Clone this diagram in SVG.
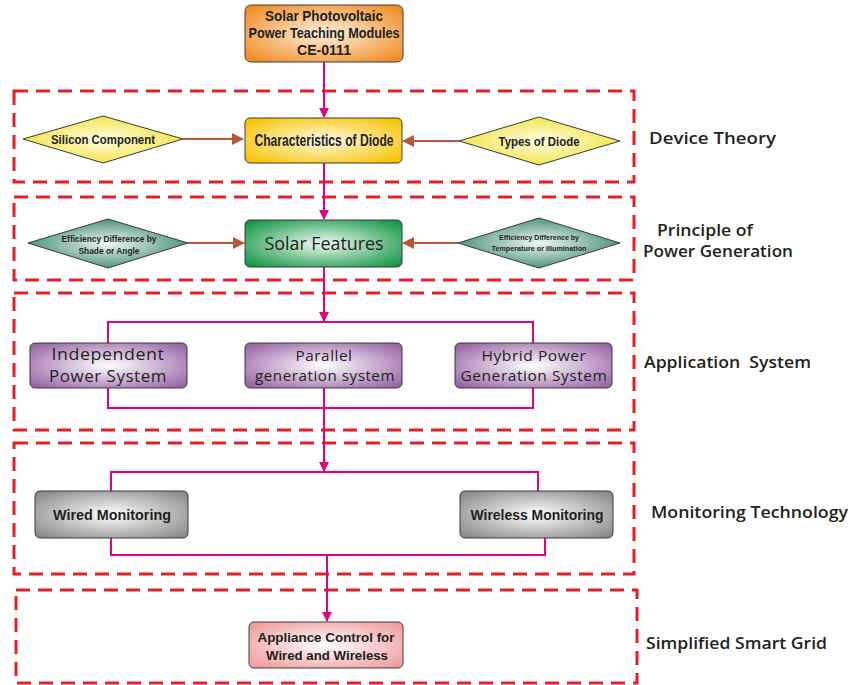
<svg xmlns="http://www.w3.org/2000/svg" width="850" height="685" viewBox="0 0 850 685">
<defs>
<radialGradient id="gOrange" cx="50%" cy="50%" r="65%"><stop offset="0" stop-color="#fff1e0"/><stop offset="1" stop-color="#f08d25"/></radialGradient>
<radialGradient id="gYellow" cx="50%" cy="50%" r="65%"><stop offset="0" stop-color="#fffbe6"/><stop offset="1" stop-color="#f6c300"/></radialGradient>
<radialGradient id="gGreen" cx="50%" cy="50%" r="65%"><stop offset="0" stop-color="#f0fbf0"/><stop offset="1" stop-color="#139646"/></radialGradient>
<radialGradient id="gPurple" cx="50%" cy="50%" r="65%"><stop offset="0" stop-color="#ffffff"/><stop offset="1" stop-color="#9864a6"/></radialGradient>
<radialGradient id="gGray" cx="50%" cy="50%" r="65%"><stop offset="0" stop-color="#ffffff"/><stop offset="1" stop-color="#8a8a8a"/></radialGradient>
<radialGradient id="gPink" cx="50%" cy="50%" r="65%"><stop offset="0" stop-color="#ffffff"/><stop offset="1" stop-color="#ee9c9c"/></radialGradient>
<radialGradient id="gDYellow" cx="50%" cy="50%" r="55%"><stop offset="0" stop-color="#fffde8"/><stop offset="1" stop-color="#f2e23a"/></radialGradient>
<radialGradient id="gDTeal" cx="50%" cy="50%" r="55%"><stop offset="0" stop-color="#eef7f3"/><stop offset="1" stop-color="#3f8a74"/></radialGradient>
<marker id="mPink" markerWidth="10" markerHeight="10" refX="9" refY="5" orient="auto" markerUnits="userSpaceOnUse"><path d="M0,0 L10,5 L0,10 z" fill="#e6007e"/></marker>
<marker id="mBrown" markerWidth="12" markerHeight="12" refX="11" refY="6" orient="auto" markerUnits="userSpaceOnUse"><path d="M0,0 L12,6 L0,12 z" fill="#b5573a"/></marker>
</defs>
<style>
.sec{fill:none;stroke:#e61e2a;stroke-width:3;stroke-dasharray:14 8}
.box{stroke:#3a3a3a;stroke-width:1}
.dia{stroke:#3a3a3a;stroke-width:1}
.c{fill:none;stroke:#e6007e;stroke-width:2}
.b{fill:none;stroke:#b5573a;stroke-width:2.2}
.t{font-family:"Liberation Sans",Arial,sans-serif;font-weight:bold;fill:#231f20;text-anchor:middle}
.p{font-family:"Open Sans","Noto Sans",sans-serif;fill:#231f20;text-anchor:middle;letter-spacing:0.5px}
.lab{font-family:"Open Sans","Noto Sans",sans-serif;font-weight:600;font-size:17px;fill:#231f20}
</style>
<g id="sections">
<rect class="sec" x="14" y="91" width="620" height="91"/>
<rect class="sec" x="14" y="197" width="620" height="83"/>
<rect class="sec" x="14" y="293" width="620" height="137"/>
<rect class="sec" x="14" y="443" width="620" height="131"/>
<rect class="sec" x="16" y="590" width="621" height="93"/>
</g>
<g id="connectors">
<path class="c" d="M324 62 V117" marker-end="url(#mPink)"/>
<path class="c" d="M324 163 V219" marker-end="url(#mPink)"/>
<path class="c" d="M324 267 V321" marker-end="url(#mPink)"/>
<path class="c" d="M108 343 V322 H533 V343"/>
<path class="c" d="M108 388 V408 H533 V388"/>
<path class="c" d="M324 388 V471" marker-end="url(#mPink)"/>
<path class="c" d="M111 491 V472 H538 V491"/>
<path class="c" d="M111 538 V555 H545 V538"/>
<path class="c" d="M327 555 V621" marker-end="url(#mPink)"/>
<path class="b" d="M183 139 H243" marker-end="url(#mBrown)"/>
<path class="b" d="M459 141 H403" marker-end="url(#mBrown)"/>
<path class="b" d="M188 243 H244" marker-end="url(#mBrown)"/>
<path class="b" d="M458 243 H403" marker-end="url(#mBrown)"/>
</g>
<g id="n-top">
<rect class="box" x="245" y="5" width="158" height="57" rx="6" fill="url(#gOrange)"/>
<text class="t" font-size="14" x="324" y="21" textLength="118" lengthAdjust="spacingAndGlyphs">Solar Photovoltaic</text>
<text class="t" font-size="14" x="324" y="38" textLength="151" lengthAdjust="spacingAndGlyphs">Power Teaching Modules</text>
<text class="t" font-size="14" x="324" y="55" textLength="54" lengthAdjust="spacingAndGlyphs">CE-0111</text>
</g>
<g id="n-diode">
<rect class="box" x="245" y="118" width="157" height="45" rx="5" fill="url(#gYellow)"/>
<text class="t" font-size="16" x="324" y="146" textLength="139" lengthAdjust="spacingAndGlyphs">Characteristics of Diode</text>
</g>
<g id="n-silicon">
<polygon class="dia" points="23,139 103,116 183,139 103,163" fill="url(#gDYellow)"/>
<text class="t" font-size="13" x="103" y="144" textLength="104" lengthAdjust="spacingAndGlyphs">Silicon Component</text>
</g>
<g id="n-types">
<polygon class="dia" points="459,141 539,117 620,141 539,165" fill="url(#gDYellow)"/>
<text class="t" font-size="13" x="539" y="146" textLength="81" lengthAdjust="spacingAndGlyphs">Types of Diode</text>
</g>
<g id="n-solar">
<rect class="box" x="245" y="220" width="157" height="47" rx="5" fill="url(#gGreen)"/>
<text class="p" font-size="19" x="324" y="250" textLength="119" lengthAdjust="spacingAndGlyphs" style="letter-spacing:0">Solar Features</text>
</g>
<g id="n-shade">
<polygon class="dia" points="28,243 108,219 188,243 108,268" fill="url(#gDTeal)"/>
<text class="t" font-size="8.5" x="109" y="242" textLength="95" lengthAdjust="spacingAndGlyphs">Efficiency Difference by</text>
<text class="t" font-size="8.5" x="109" y="254" textLength="61" lengthAdjust="spacingAndGlyphs">Shade or Angle</text>
</g>
<g id="n-temp">
<polygon class="dia" points="458,243 539,218 620,243 539,268" fill="url(#gDTeal)"/>
<text class="t" font-size="8" x="539" y="240" textLength="80" lengthAdjust="spacingAndGlyphs">Efficiency Difference by</text>
<text class="t" font-size="8" x="539" y="251" textLength="95" lengthAdjust="spacingAndGlyphs">Temperature or Illumination</text>
</g>
<g id="n-independent">
<rect class="box" x="30" y="343" width="157" height="45" rx="5" fill="url(#gPurple)"/>
<text class="p" font-size="16" x="108" y="360" textLength="113" lengthAdjust="spacingAndGlyphs">Independent</text>
<text class="p" font-size="16" x="108" y="382" textLength="118" lengthAdjust="spacingAndGlyphs">Power System</text>
</g>
<g id="n-parallel">
<rect class="box" x="245" y="343" width="157" height="45" rx="5" fill="url(#gPurple)"/>
<text class="p" font-size="14" x="324" y="361" textLength="57" lengthAdjust="spacingAndGlyphs">Parallel</text>
<text class="p" font-size="14" x="325" y="381" textLength="140" lengthAdjust="spacingAndGlyphs">generation system</text>
</g>
<g id="n-hybrid">
<rect class="box" x="455" y="343" width="157" height="45" rx="5" fill="url(#gPurple)"/>
<text class="p" font-size="14" x="534" y="361" textLength="105" lengthAdjust="spacingAndGlyphs">Hybrid Power</text>
<text class="p" font-size="14" x="534" y="381" textLength="147" lengthAdjust="spacingAndGlyphs">Generation System</text>
</g>
<g id="n-wired">
<rect class="box" x="35" y="491" width="153" height="47" rx="5" fill="url(#gGray)"/>
<text class="t" font-size="15" x="112" y="520" textLength="118" lengthAdjust="spacingAndGlyphs">Wired Monitoring</text>
</g>
<g id="n-wireless">
<rect class="box" x="460" y="491" width="153" height="47" rx="5" fill="url(#gGray)"/>
<text class="t" font-size="15" x="537" y="520" textLength="133" lengthAdjust="spacingAndGlyphs">Wireless Monitoring</text>
</g>
<g id="n-appliance">
<rect class="box" x="249" y="622" width="154" height="46" rx="5" fill="url(#gPink)"/>
<text class="t" font-size="13" x="326" y="642" textLength="137" lengthAdjust="spacingAndGlyphs">Appliance Control for</text>
<text class="t" font-size="13" x="327" y="660" textLength="122" lengthAdjust="spacingAndGlyphs">Wired and Wireless</text>
</g>
<g id="labels">
<text class="lab" x="649" y="144" textLength="127" lengthAdjust="spacingAndGlyphs">Device Theory</text>
<text class="lab" x="705" y="236" text-anchor="middle" textLength="96" lengthAdjust="spacingAndGlyphs">Principle of</text>
<text class="lab" x="643" y="257" textLength="150" lengthAdjust="spacingAndGlyphs">Power Generation</text>
<text class="lab" x="644" y="368" textLength="167" lengthAdjust="spacingAndGlyphs" xml:space="preserve">Application  System</text>
<text class="lab" x="651" y="518" textLength="197" lengthAdjust="spacingAndGlyphs">Monitoring Technology</text>
<text class="lab" x="646" y="649" textLength="181" lengthAdjust="spacingAndGlyphs">Simplified Smart Grid</text>
</g>
</svg>
